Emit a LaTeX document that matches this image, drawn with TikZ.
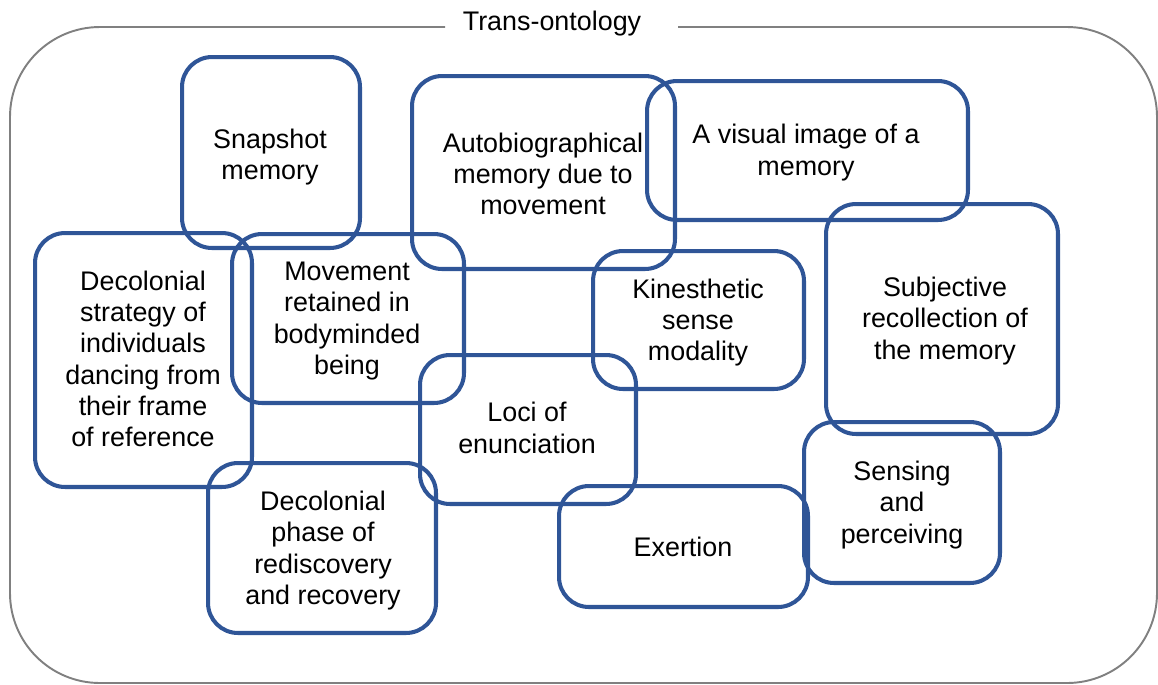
\documentclass[tikz,border=0pt]{standalone}
\usepackage{fontspec}
\setmainfont{Liberation Sans}
\definecolor{boxblue}{RGB}{47,85,151}
\definecolor{framegray}{RGB}{128,128,128}
\begin{document}
\begin{tikzpicture}[x=0.02cm,y=-0.02cm,
  every node/.style={font=\fontsize{15.3}{17.8}\selectfont},
  concept/.style={draw=boxblue, line width=2.3pt, rounded corners=0.6cm,
    inner sep=0pt},
  caption/.style={align=center, inner sep=0pt}]
\useasboundingbox (0,0) rectangle (1158,684);

% outer frame with a gap for the title
\draw[framegray, line width=1.1pt, rounded corners=1.8cm]
  (445,27) -- (10,27) -- (10,683) -- (1157,683) -- (1157,27) -- (678,27);
\node (title) at (552,24) {Trans-ontology};

% concept boxes
\node[concept, minimum width=3.56cm, minimum height=3.82cm] (snap)  at (271,152.5) {};
\node[concept, minimum width=5.26cm, minimum height=3.86cm] (auto)  at (543.5,172.5) {};
\node[concept, minimum width=6.42cm, minimum height=2.78cm] (vis)   at (807.5,150.5) {};
\node[concept, minimum width=4.34cm, minimum height=5.08cm] (strat) at (143.5,360) {};
\node[concept, minimum width=4.64cm, minimum height=3.38cm] (move)  at (348,318.5) {};
\node[concept, minimum width=4.22cm, minimum height=2.76cm] (kin)   at (698.5,320) {};
\node[concept, minimum width=4.64cm, minimum height=4.60cm] (subj)  at (942,319) {};
\node[concept, minimum width=4.32cm, minimum height=2.98cm] (loci)  at (528,429.5) {};
\node[concept, minimum width=4.56cm, minimum height=3.40cm] (phase) at (322,548) {};
\node[concept, minimum width=4.98cm, minimum height=2.42cm] (exert) at (683.5,546.5) {};
\node[concept, minimum width=3.92cm, minimum height=3.22cm] (sens)  at (902,502.5) {};

% box captions
\node[caption] (snap-t)  at (270,157)   {Snapshot\\memory};
\node[caption] (auto-t)  at (543,174)   {Autobiographical\\memory due to\\movement};
\node[caption] (vis-t)   at (806,152.5) {A visual image of a\\memory};
\node[caption] (strat-t) at (143,359)   {Decolonial\\strategy of\\individuals\\dancing from\\their frame\\of reference};
\node[caption] (move-t)  at (347,321)   {Movement\\retained in\\bodyminded\\being};
\node[caption] (kin-t)   at (698,322.5) {Kinesthetic\\sense\\modality};
\node[caption] (subj-t)  at (945,321)   {Subjective\\recollection of\\the memory};
\node[caption] (loci-t)  at (527,428)   {Loci of\\enunciation};
\node[caption] (phase-t) at (323,550.5) {Decolonial\\phase of\\rediscovery\\and recovery};
\node[caption] (exert-t) at (683,546.5) {Exertion};
\node[caption] (sens-t)  at (902,505)   {Sensing\\and\\perceiving};
\end{tikzpicture}
\end{document}
